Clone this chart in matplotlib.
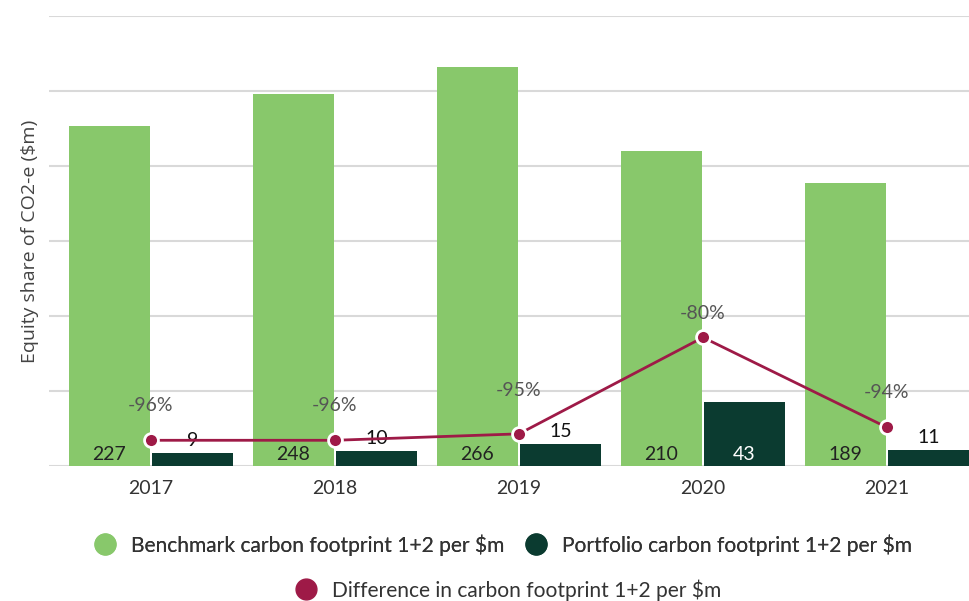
import numpy as np
import matplotlib
matplotlib.use("Agg")
import matplotlib.pyplot as plt
from matplotlib.lines import Line2D

plt.rcParams['font.family'] = ['Lato', 'DejaVu Sans']

# data
years = ['2017', '2018', '2019', '2020', '2021']
benchmark = [227, 248, 266, 210, 189]
portfolio = [9, 10, 15, 43, 11]
difference = [-96, -96, -95, -80, -94]

light_green = '#88c86b'
dark_green = '#0b3b30'
wine = '#9e1a47'

W, H = 970, 601
fig = plt.figure(figsize=(W / 100, H / 100), dpi=100)
ax = fig.add_axes([49 / W, 1 - 466 / H, (970 - 49) / W, 450 / H])

x = np.arange(len(years))
bw = 0.44
gap = 0.006
b1 = ax.bar(x - bw / 2 - gap, benchmark, bw, color=light_green, zorder=2)
b2 = ax.bar(x + bw / 2 + gap, portfolio, bw, color=dark_green, zorder=2)

ax.set_ylim(0, 300)
ax.set_xlim(-(151 - 49) / 184, (970 - 151) / 184)
ax.set_yticks(np.arange(0, 301, 50))
ax.set_yticklabels([])
ax.tick_params(axis='y', length=0)
ax.tick_params(axis='x', length=0, pad=10, labelsize=14, labelcolor='#333333')
ax.set_xticks(x)
ax.set_xticklabels(years)
ax.grid(axis='y', color='#d9d9d9', linewidth=1.5, zorder=0)
for s in ax.spines.values():
    s.set_visible(False)
ax.set_ylabel('Equity share of CO2-e ($m)', fontsize=14, color='#444444',
              family=['Open Sans', 'DejaVu Sans'], labelpad=4)

# value labels: inside base if they fit, otherwise above the bar
for rect, v in zip(b1, benchmark):
    ax.annotate(str(v), (rect.get_x() + rect.get_width() / 2, 0),
                xytext=(0, 12), textcoords='offset pixels', ha='center', va='center',
                fontsize=14, color='#222222', zorder=5)
for rect, v in zip(b2, portfolio):
    cx = rect.get_x() + rect.get_width() / 2
    if v > 25:
        ax.annotate(str(v), (cx, 0), xytext=(0, 12), textcoords='offset pixels',
                    ha='center', va='center', fontsize=14, color='white', zorder=5)
    else:
        ax.annotate(str(v), (cx, v), xytext=(0, 12), textcoords='offset pixels',
                    ha='center', va='center', fontsize=14, color='#111111', zorder=5)

ax2 = ax.twinx()
ax2.set_ylim(-100, -30)
ax2.axis('off')
ax2.plot(x, difference, color=wine, linewidth=2, marker='o', markersize=10,
         markerfacecolor=wine, markeredgecolor='white', markeredgewidth=2, zorder=4)
label_offsets = [35, 35, 43, 24, 35]
for xi, d, off in zip(x, difference, label_offsets):
    ax2.annotate(f'{d}%', (xi, d), xytext=(0, off), textcoords='offset pixels',
                 ha='center', va='center', fontsize=14, color='#555555')

handles1 = [Line2D([], [], marker='o', linestyle='', markersize=15, color=light_green),
            Line2D([], [], marker='o', linestyle='', markersize=15, color=dark_green)]
leg1 = fig.legend(handles1, ['Benchmark carbon footprint 1+2 per $m',
                             'Portfolio carbon footprint 1+2 per $m'],
                  loc='center', bbox_to_anchor=(498 / W, 1 - 545 / H), ncol=2,
                  frameon=False, fontsize=15.1, handletextpad=0.25, columnspacing=0.5,
                  labelcolor='#333333')
handles2 = [Line2D([], [], marker='o', linestyle='', markersize=15, color=wine)]
fig.legend(handles2, ['Difference in carbon footprint 1+2 per $m'],
           loc='center', bbox_to_anchor=(503 / W, 1 - 590 / H),
           frameon=False, fontsize=15.1, handletextpad=0.25, labelcolor='#333333')
fig.add_artist(leg1)

fig.savefig('out.png', dpi=100)
